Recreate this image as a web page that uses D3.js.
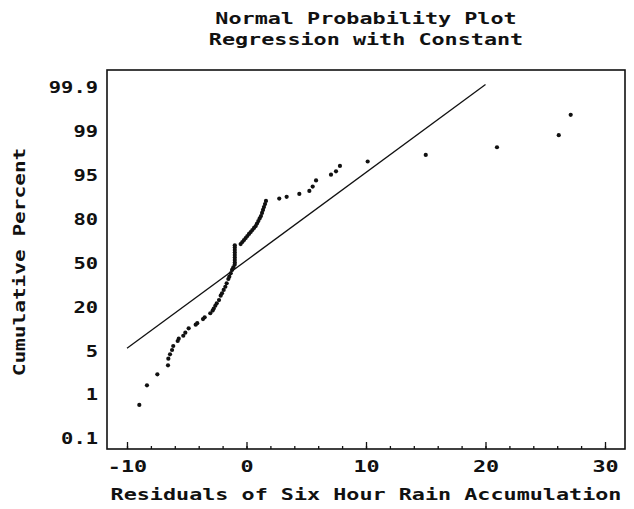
<!DOCTYPE html>
<html>
<head>
<meta charset="utf-8">
<script src="https://cdn.jsdelivr.net/npm/d3@7"></script>
<style>
  html, body { margin: 0; padding: 0; background: #fff; }
  svg text { font-family: "DejaVu Sans Mono", "Liberation Mono", monospace; font-weight: bold; fill: #111; }
</style>
</head>
<body>
<svg id="chart" width="634" height="509"></svg>
<script>
// Residuals (x) and their cumulative percent (y), sorted ascending
const residuals = [
  -8.97, -8.33, -7.46, -6.57, -6.54, -6.40, -6.23, -6.13, -5.76, -5.67,
  -5.29, -5.12, -4.84, -4.25, -4.12, -3.64, -3.50, -3.03, -2.83, -2.74,
  -2.61, -2.49, -2.30, -2.16, -2.05, -1.91, -1.77, -1.66, -1.52, -1.44,
  -1.32, -1.21, -1.10, -0.99,
  -0.98, -0.98, -0.98, -0.98, -0.98, -0.98, -0.98, -0.98,
  -0.49, -0.35, -0.21, -0.07, 0.07, 0.21, 0.35, 0.49, 0.63, 0.77,
  0.88, 0.99, 1.10, 1.21, 1.30, 1.38, 1.46, 1.55, 1.63,
  2.74, 3.36, 4.42, 5.26, 5.54, 5.82, 7.07, 7.49, 7.82, 10.14,
  15.0, 20.96, 26.13, 27.13
];
const cumPercent = [
  0.80, 1.89, 2.90, 3.72, 4.32, 4.72, 5.43, 6.8, 8.5, 9.3,
  10.3, 11.35, 12.85, 14.1, 14.6, 16.0, 16.6, 18.0, 18.9, 19.6,
  21.1, 22.8, 25.0, 28.0, 29.6, 31.9, 34.1, 36.5, 39.4, 41.0,
  43.3, 45.6, 47.4, 49.2,
  50.7, 52.4, 54.1, 55.8, 57.5, 59.2, 60.9, 62.4,
  63.3, 64.7, 66.0, 67.4, 68.8, 70.2, 71.5, 72.9, 74.3, 75.6,
  77.3, 79.0, 80.4, 81.2, 82.3, 83.3, 84.3, 85.3, 86.4,
  87.2, 87.8, 88.8, 89.8, 91.3, 93.4, 95.1, 95.4, 95.9, 96.3,
  96.9, 97.6, 98.7, 99.35
];

// Fitted normal reference line (end points)
const fitResidual = [-10, 20];
const fitPercent = [6.0, 99.97];

// Axis ticks
const percentTicks = [0.1, 1, 5, 20, 50, 80, 95, 99, 99.9];
const xMajorTicks = [-10, 0, 10, 20, 30];
const xMinorTicks = d3.range(-10, 31, 2);

const titleLines = ["Normal Probability Plot", "Regression with Constant"];
const xTitle = "Residuals of Six Hour Rain Accumulation";
const yTitle = "Cumulative Percent";

// Layout
const frame = { left: 107, right: 625, top: 70, bottom: 449 };
const yTop = 88, yBottom = 439;
const charW = 13.1;
const fontSize = 15;

const svg = d3.select("#chart");

const x = d3.scaleLinear().domain([-10, 30]).range([127, 605]);
// Probability axis: labelled percents are evenly spaced up the frame
const yStep = (yBottom - yTop) / (percentTicks.length - 1);
const y = d3.scaleLinear()
  .domain(percentTicks)
  .range(percentTicks.map((d, i) => yBottom - i * yStep));

// Stretch text to the wide plotter lettering
function wide(sel, per) {
  sel.each(function() {
    const t = d3.select(this);
    const s = t.text();
    t.attr("textLength", s.length * (per || charW)).attr("lengthAdjust", "spacingAndGlyphs");
  });
}

// Frame
svg.append("rect")
  .attr("x", frame.left).attr("y", frame.top)
  .attr("width", frame.right - frame.left).attr("height", frame.bottom - frame.top)
  .attr("fill", "none").attr("stroke", "#111").attr("stroke-width", 1.6);

// X axis: minor ticks every 2, labelled major ticks every 10, drawn inward
const xMinor = svg.append("g")
  .attr("transform", `translate(0,${frame.bottom})`)
  .call(d3.axisBottom(x).tickValues(xMinorTicks).tickSize(-3).tickFormat(""));
xMinor.select(".domain").remove();
xMinor.selectAll("line").attr("stroke", "#111").attr("stroke-width", 1.3);

const xMajor = svg.append("g")
  .attr("transform", `translate(0,${frame.bottom})`)
  .call(d3.axisBottom(x).tickValues(xMajorTicks).tickSize(-7).tickPadding(12).tickFormat(d => String(d)));
xMajor.select(".domain").remove();
xMajor.selectAll("line").attr("stroke", "#111").attr("stroke-width", 1.3);
xMajor.selectAll("text")
  .attr("font-size", fontSize)
  .style("font-family", "DejaVu Sans Mono").style("font-weight", "bold")
  .call(wide);

// Y axis labels only
const yAxis = svg.append("g")
  .attr("transform", `translate(${frame.left},0)`)
  .call(d3.axisLeft(y).tickValues(percentTicks).tickSize(0).tickPadding(9)
    .tickFormat(d => String(d)));
yAxis.select(".domain").remove();
yAxis.selectAll("text")
  .attr("font-size", fontSize)
  .style("font-family", "DejaVu Sans Mono").style("font-weight", "bold")
  .call(wide, 12.3);

// Titles
svg.selectAll("text.title").data(titleLines).join("text")
  .attr("class", "title")
  .attr("x", 366).attr("y", (d, i) => 24 + i * 21)
  .attr("text-anchor", "middle").attr("font-size", fontSize)
  .text(d => d)
  .call(wide);

svg.append("text")
  .attr("x", 366).attr("y", 500)
  .attr("text-anchor", "middle").attr("font-size", fontSize)
  .text(xTitle)
  .call(wide);

svg.append("text")
  .attr("transform", "translate(25,262) rotate(-90)")
  .attr("text-anchor", "middle").attr("font-size", fontSize)
  .text(yTitle)
  .call(wide, 12.7);

// Fitted line
svg.append("line")
  .attr("x1", x(fitResidual[0])).attr("y1", y(fitPercent[0]))
  .attr("x2", x(fitResidual[1])).attr("y2", y(fitPercent[1]))
  .attr("stroke", "#111").attr("stroke-width", 1.3);

// Points
svg.append("g").selectAll("circle")
  .data(residuals.map((r, i) => ({ r, p: cumPercent[i] })))
  .join("circle")
  .attr("cx", d => x(d.r)).attr("cy", d => y(d.p))
  .attr("r", 2.1).attr("fill", "#111");
</script>
</body>
</html>
